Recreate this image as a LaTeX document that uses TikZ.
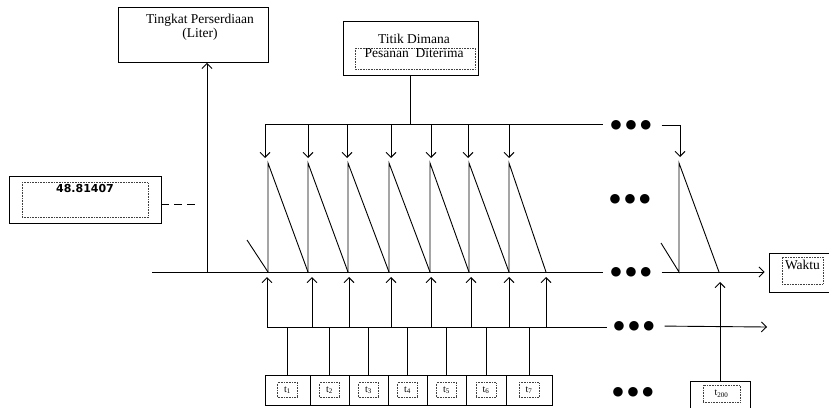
\documentclass[tikz,border=0pt]{standalone}
\usepackage{fontspec}
\setmainfont{Liberation Serif}
\newfontfamily\symfont{DejaVu Sans}
\usetikzlibrary{
    arrows.meta
}

\begin{document}
\begin{tikzpicture}[
    x=1pt, y=-1pt,
    font=\fontsize{13.5}{14}\selectfont,
    plainbox/.style={
        rectangle,
        draw=black,
        line width=0.9pt,
        inner sep=0pt,
        fill=white
    },
    dotbox/.style={
        rectangle,
        draw=black!75,
        densely dotted,
        line width=0.6pt,
        inner sep=2pt
    },
    tbox/.style={
        plainbox,
        minimum height=30
    },
    line/.style={
        line width=0.9pt,
        draw=black
    },
    arrow/.style={
        -{Straight Barb[length=5pt,width=10pt]},
        line width=0.9pt,
        draw=black
    },
    ellipsis/.style={
        font=\symfont\fontsize{12.5}{12}\selectfont,
        inner sep=0pt
    }
]
\useasboundingbox (0,0) rectangle (829,407);

% =========================================================
% Label boxes
% =========================================================
\node[plainbox, minimum width=150, minimum height=55] (stock) at (193,35) {};
\node[anchor=north, align=center] (stocktxt) at (200,10.5)
{Tingkat Perserdiaan\\(Liter)};

\node[plainbox, minimum width=135, minimum height=54] (pesanan) at (410.5,48) {};
\draw[dotbox] (355,48) rectangle (475,69);
\node[anchor=north, align=center] (pesanantxt) at (414,31)
{Titik Dimana\\Pesanan\ \ Diterima};

\node[plainbox, minimum width=152, minimum height=46.5] (valbox) at (85,200) {};
\node[dotbox, minimum width=126, text height=8, text depth=23,
      font=\symfont\bfseries\fontsize{11}{13}\selectfont] (valtxt) at (valbox) {48.81407};

\node[plainbox, minimum width=71, minimum height=39] (waktubox) at (804.5,272.5) {};
\node[dotbox, minimum width=41, text height=10, text depth=13] (waktutxt) at (802.5,270.5) {Waktu};

% =========================================================
% Time boxes
% =========================================================
\node[tbox, minimum width=45] (t1box) at (287.5,390) {};
\node[tbox, minimum width=39] (t2box) at (329.5,390) {};
\node[tbox, minimum width=39] (t3box) at (368.5,390) {};
\node[tbox, minimum width=39] (t4box) at (407.5,390) {};
\node[tbox, minimum width=39] (t5box) at (446.5,390) {};
\node[tbox, minimum width=40] (t6box) at (486,390) {};
\node[tbox, minimum width=46] (t7box) at (529,390) {};
\node[plainbox, minimum width=60, minimum height=44] (t200box) at (720,403) {};

\foreach \n in {1,...,7}
    \node[dotbox, minimum width=20, minimum height=15, font=\fontsize{10}{10}\selectfont]
        (t\n txt) at (t\n box) {t\textsubscript{\n}};
\node[dotbox, minimum width=37, minimum height=17, font=\fontsize{10}{10}\selectfont]
    (t200txt) at (721.5,393.5) {t\textsubscript{200}};

% =========================================================
% Ellipsis marks
% =========================================================
\node[ellipsis] (topdots) at (631,125) {● ● ●};
\node[ellipsis] (middots) at (630,199) {● ● ●};
\node[ellipsis] (axisdots) at (631,272) {● ● ●};
\node[ellipsis] (orderdots) at (634,326) {● ● ●};
\node[ellipsis] (boxdots) at (633,392) {● ● ●};

% =========================================================
% Lines and axis
% =========================================================
\coordinate (topL) at (265,124);
\coordinate (topR) at (603,124);
\coordinate (axisL) at (152,272);
\coordinate (axisR) at (603,272);
\coordinate (orderL) at (267,327);
\coordinate (orderR) at (607,327);
\coordinate (stockfoot) at (207,272);
\coordinate (lastdrop) at (680,157);
\coordinate (orderend) at (767,327);
\coordinate (leadtip) at (720,282);
\coordinate (dashend) at (200,204);

\draw[line] (topL) -- (topR);
\draw[line] (axisL) -- (axisR);
\draw[line] (orderL) -- (orderR);

\draw[line] (pesanan.south) -- (pesanan.south |- topL);
\draw[arrow] (stockfoot) -- (stockfoot |- stock.south);
\draw[line, dash pattern=on 8pt off 5pt] (valbox.east |- dashend) -- (dashend);

\draw[arrow, shorten <=10pt] (topdots.east) -| (lastdrop);
\draw[arrow, shorten <=10pt, shorten >=4pt] (axisdots.east) -- (waktubox.west |- axisdots);
\draw[arrow, shorten <=10pt] (orderdots.east) -- (orderend);
\draw[arrow] (t200box.north) -- (leadtip);

% =========================================================
% Inventory saw-tooth
% =========================================================
\draw[line] (247,240) -- (268,272);
\foreach \xa/\xb in {268/308, 308/348, 348/389, 389/430, 430/469, 469/509, 509/546}
    \draw[line] (\xa,272) -- (\xa,163) -- (\xb,272);
\draw[line] (661,243) -- (679,272) -- (679,163) -- (719,272);

\foreach \x in {265,308,347,391,431,468,509}
    \draw[arrow] (\x,124) -- (\x,158);
\foreach \x in {267,312,349,391,431,471,509,546}
    \draw[arrow] (\x,327) -- (\x,277);

\foreach \n in {1,...,7}
    \draw[line] (t\n box.north) -- (t\n box.north |- orderL);

\end{tikzpicture}
\end{document}
